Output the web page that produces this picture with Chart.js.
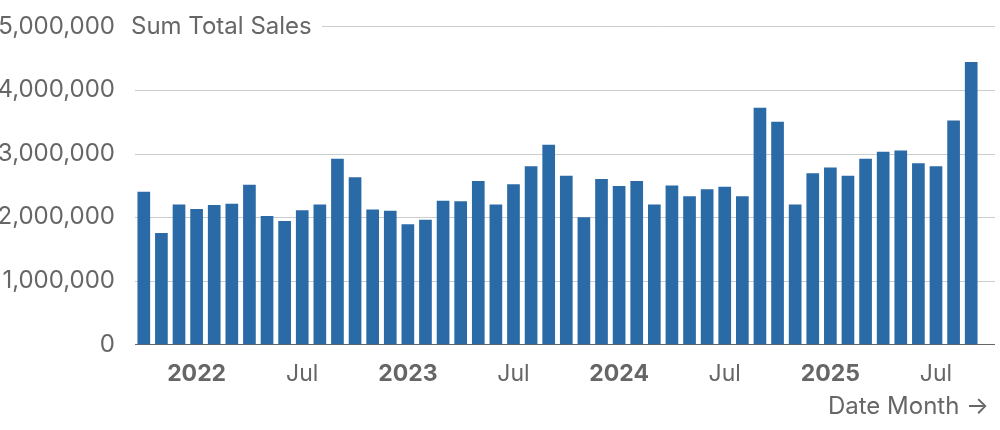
<!DOCTYPE html>
<html><head><meta charset="utf-8">
<script src="https://cdn.jsdelivr.net/npm/chart.js@4"></script>
<style>body{margin:0;background:#fff}#w{width:1000px;height:430px}</style>
</head><body><div id="w"><canvas id="c"></canvas></div>
<script>
const months = ['Oct 2021','Nov 2021','Dec 2021',
'Jan 2022','Feb 2022','Mar 2022','Apr 2022','May 2022','Jun 2022','Jul 2022','Aug 2022','Sep 2022','Oct 2022','Nov 2022','Dec 2022',
'Jan 2023','Feb 2023','Mar 2023','Apr 2023','May 2023','Jun 2023','Jul 2023','Aug 2023','Sep 2023','Oct 2023','Nov 2023','Dec 2023',
'Jan 2024','Feb 2024','Mar 2024','Apr 2024','May 2024','Jun 2024','Jul 2024','Aug 2024','Sep 2024','Oct 2024','Nov 2024','Dec 2024',
'Jan 2025','Feb 2025','Mar 2025','Apr 2025','May 2025','Jun 2025','Jul 2025','Aug 2025','Sep 2025'];
const sales = [2400000,1750000,2200000,
2130000,2190000,2210000,2510000,2020000,1940000,2110000,2200000,2920000,2630000,2120000,2100000,
1890000,1960000,2260000,2250000,2570000,2200000,2520000,2800000,3140000,2650000,2000000,2600000,
2490000,2570000,2200000,2500000,2330000,2440000,2480000,2330000,3720000,3500000,2200000,2690000,
2780000,2650000,2920000,3030000,3050000,2850000,2800000,3520000,4440000];
const yTicks = [0,1000000,2000000,3000000,4000000,5000000];
const FONT = 'Inter, sans-serif';
const RIGHT_EDGE = 995;
const extras = {
  id:'extras',
  beforeDatasetsDraw(ch){
    const c=ch.ctx, y=ch.scales.y, a=ch.chartArea;
    c.save(); c.lineWidth=1;
    yTicks.forEach(v=>{
      const yy=Math.round(y.getPixelForValue(v))+0.5;
      c.strokeStyle = v===0 ? '#666' : '#ccc';
      c.beginPath(); c.moveTo(v===5000000?322:a.left, yy); c.lineTo(RIGHT_EDGE, yy); c.stroke();
    });
    c.restore();
  },
  afterDraw(ch){
    const c=ch.ctx, y=ch.scales.y;
    const yy=y.getPixelForValue(5000000);
    c.save();
    c.font='24px '+FONT; c.fillStyle='#666'; c.textBaseline='middle'; c.textAlign='left';
    c.fillText('Sum Total Sales', 131, yy);
    c.textAlign='right';
    c.fillText('Date Month \u2192', RIGHT_EDGE-6, 407);
    c.restore();
  }
};
new Chart(document.getElementById('c'),{
  type:'bar',
  data:{labels:months,datasets:[{data:sales,backgroundColor:'#2a6aa6',barPercentage:0.72,categoryPercentage:1}]},
  options:{
    responsive:true,maintainAspectRatio:false,animation:false,
    layout:{padding:{top:10,right:20,bottom:34,left:0}},
    plugins:{legend:{display:false},tooltip:{enabled:false}},
    scales:{
      x:{grid:{display:false},border:{display:false},
        ticks:{autoSkip:false,maxRotation:0,color:'#666',padding:8,
          callback:(v,i)=>{const m=months[i];if(m.startsWith('Jan'))return m.slice(4);if(m.startsWith('Jul'))return 'Jul';return null;},
          font:(ctx)=>{const l=ctx.tick&&ctx.tick.label;return {family:FONT,size:23,weight:(l&&/^\d{4}$/.test(l))?'bold':'normal'};}}},
      y:{min:0,max:5000000,afterFit:s=>{s.width=135;},
        afterBuildTicks:s=>{s.ticks=yTicks.map(v=>({value:v}));},
        grid:{display:false},
        border:{display:false},
        ticks:{color:'#666',padding:12,font:{family:FONT,size:24},callback:v=>v.toLocaleString('en-US')}}
    }
  },
  plugins:[extras]
});
</script></body></html>
